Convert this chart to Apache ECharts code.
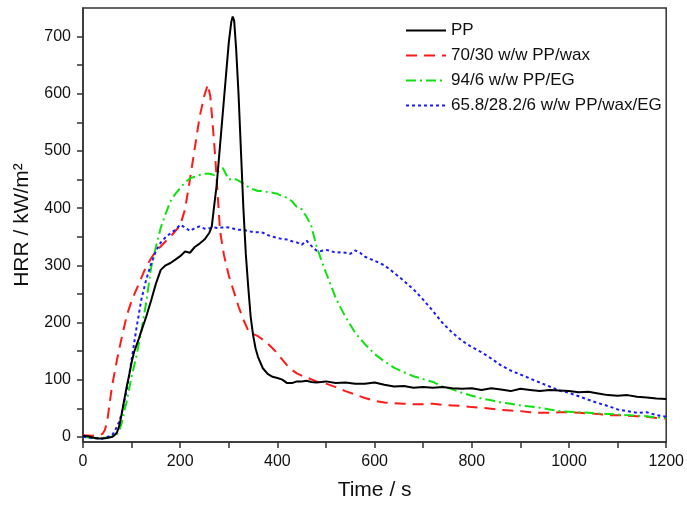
<!DOCTYPE html>
<html>
<head>
<meta charset="utf-8">
<script src="https://cdn.jsdelivr.net/npm/echarts@6/dist/echarts.min.js"></script>
<style>html,body{margin:0;padding:0;background:#fff;}#chart{width:687px;height:506px;}</style>
</head>
<body>
<div id="chart"></div>
<script>
// ---- Data ----
const seriesNames = ['PP', '70/30 w/w PP/wax', '94/6 w/w PP/EG', '65.8/28.2/6 w/w PP/wax/EG'];

const ppTime = [0,10,20,30,40,50,60,65,70,75,80,85,90,95,100,105,110,115,120,130,140,150,160,170,180,190,200,210,220,230,240,250,260,265,270,275,280,285,290,295,300,305,308,311,315,320,325,330,335,340,345,350,355,360,370,380,390,400,410,420,430,440,450,460,470,480,500,520,540,560,580,600,620,640,660,680,700,720,740,760,780,800,820,840,860,880,900,920,940,960,980,1000,1020,1040,1060,1080,1100,1120,1140,1160,1180,1200];
const ppHRR = [2,1,-1,-3,-3,-2,0,3,8,20,42,65,88,108,130,148,160,172,185,210,238,268,292,300,304,310,316,324,322,332,338,345,357,368,405,440,490,540,590,640,690,725,735,728,680,600,500,400,320,262,210,178,155,140,120,110,105,103,100,94,94,97,97,98,96,95,97,94,95,93,93,95,91,88,89,86,87,86,87,85,84,85,82,85,83,80,84,82,80,82,81,80,78,79,76,73,72,73,70,69,67,66];

const waxTime = [0,20,40,45,50,55,60,70,80,90,100,110,120,130,140,150,160,170,180,190,200,210,220,230,240,250,257,262,267,272,277,282,290,300,310,320,330,340,350,360,370,380,390,400,410,420,430,440,450,460,480,500,520,540,560,580,600,620,640,660,680,700,720,740,760,780,800,820,840,860,880,900,920,940,960,980,1000,1020,1040,1060,1080,1100,1120,1140,1160,1180,1200];
const waxHRR = [3,2,5,12,28,60,90,135,175,212,238,258,278,298,312,325,333,342,350,360,370,398,450,505,560,598,616,595,545,490,425,360,318,282,255,228,205,186,180,176,170,163,155,146,135,125,117,111,107,104,97,93,87,80,74,68,63,60,59,58,57,57,58,56,55,54,52,51,49,47,46,45,43,42,42,43,43,42,41,40,38,38,37,36,35,33,32];

const egTime = [0,20,40,60,65,70,75,80,85,90,95,100,110,120,130,140,150,160,170,180,190,200,210,220,230,240,250,260,270,280,288,295,300,310,320,330,340,350,360,370,380,390,400,410,420,430,440,450,460,470,480,490,500,510,520,530,540,560,580,600,620,640,660,680,700,720,740,760,780,800,820,840,860,880,900,920,940,960,980,1000,1020,1040,1060,1080,1100,1120,1140,1160,1180,1200];
const egHRR = [0,-2,-2,0,2,5,12,25,45,62,84,105,142,185,235,295,332,366,390,412,425,435,445,452,455,458,460,460,458,465,470,458,450,452,448,443,437,433,430,430,428,427,425,421,418,412,402,398,385,368,335,310,287,265,243,226,210,182,162,145,132,121,113,106,101,96,88,83,77,72,67,64,60,58,55,53,51,48,45,44,43,42,41,40,39,38,37,36,34,33];

const mixTime = [0,20,40,60,65,70,75,80,85,90,95,100,110,120,130,140,150,160,170,180,190,200,210,220,230,240,250,260,270,280,290,300,310,320,330,340,350,360,370,380,390,400,410,420,430,440,450,460,470,480,490,500,510,520,530,540,550,560,570,580,600,620,640,660,680,700,720,740,760,780,800,820,840,860,880,900,920,940,960,980,1000,1020,1040,1060,1080,1100,1120,1140,1160,1180,1200];
const mixHRR = [0,-2,-3,3,10,18,28,42,62,82,108,135,190,240,275,302,325,340,349,356,362,371,366,360,365,368,364,365,366,365,367,366,364,362,362,360,358,358,357,353,350,348,346,345,342,340,336,343,334,326,325,327,325,322,323,322,320,326,322,315,308,300,287,273,258,240,220,199,182,168,157,148,137,125,116,109,102,95,88,81,77,71,65,59,54,48,45,42,43,38,35];

const xLabelValues = [0,200,400,600,800,1000,1200];
const xTickValues = [0,100,200,300,400,500,600,700,800,900,1000,1100,1200];
const yLabelValues = [0,100,200,300,400,500,600,700];
const yTickValues = [0,50,100,150,200,250,300,350,400,450,500,550,600,650,700];

// ---- Chart ----
function pairs(t, v) { return t.map((x, i) => [x, v[i]]); }
const FONT = 'Liberation Sans, Arial, sans-serif';
const axisColor = '#333';

const styles = [
  { color: '#000000', type: 'solid' },
  { color: '#ff1a1a', type: [11, 7] },
  { color: '#11e011', type: [10, 4, 2, 4] },
  { color: '#1a1aff', type: [3, 3] }
];
const datasets = [pairs(ppTime, ppHRR), pairs(waxTime, waxHRR), pairs(egTime, egHRR), pairs(mixTime, mixHRR)];
const order = [1, 2, 3, 0]; // draw PP on top

const series = order.map(i => ({
  name: seriesNames[i],
  type: 'line',
  data: datasets[i],
  symbol: 'none',
  showSymbol: false,
  z: i === 0 ? 5 : 3,
  lineStyle: { color: styles[i].color, width: 2, type: styles[i].type },
  itemStyle: { color: styles[i].color }
}));

const chart = echarts.init(document.getElementById('chart'), null, { renderer: 'canvas' });
chart.setOption({
  animation: false,
  backgroundColor: '#fff',
  textStyle: { fontFamily: FONT },
  grid: { left: 83, right: 19, top: 8, bottom: 63, show: true, borderColor: axisColor, borderWidth: 1.5, backgroundColor: 'transparent' },
  legend: {
    data: seriesNames,
    orient: 'vertical',
    left: 400,
    top: 17,
    itemWidth: 40,
    itemHeight: 14,
    itemGap: 8,
    itemStyle: { opacity: 0 },
    textStyle: { fontSize: 17, color: '#111', fontFamily: FONT }
  },
  xAxis: {
    type: 'value',
    min: 0, max: 1200,
    name: 'Time / s',
    nameLocation: 'middle',
    nameGap: 38,
    nameTextStyle: { fontSize: 21, color: '#111', fontFamily: FONT },
    axisLine: { show: true, onZero: false, lineStyle: { color: axisColor, width: 1.5 } },
    axisTick: { show: true, length: 6, customValues: xTickValues, lineStyle: { color: axisColor, width: 1.5 } },
    axisLabel: { customValues: xLabelValues, formatter: v => String(v), fontSize: 16, color: '#111', margin: 12, fontFamily: FONT },
    splitLine: { show: false }
  },
  yAxis: {
    type: 'value',
    min: -9, max: 750,
    name: 'HRR / kW/m²',
    nameLocation: 'middle',
    nameGap: 50,
    nameTextStyle: { fontSize: 21, color: '#111', fontFamily: FONT },
    axisLine: { show: true, onZero: false, lineStyle: { color: axisColor, width: 1.5 } },
    axisTick: { show: true, length: 6, customValues: yTickValues, lineStyle: { color: axisColor, width: 1.5 } },
    axisLabel: { customValues: yLabelValues, formatter: v => String(v), fontSize: 16, color: '#111', margin: 12, fontFamily: FONT },
    splitLine: { show: false }
  },
  series: series
});
</script>
</body>
</html>
